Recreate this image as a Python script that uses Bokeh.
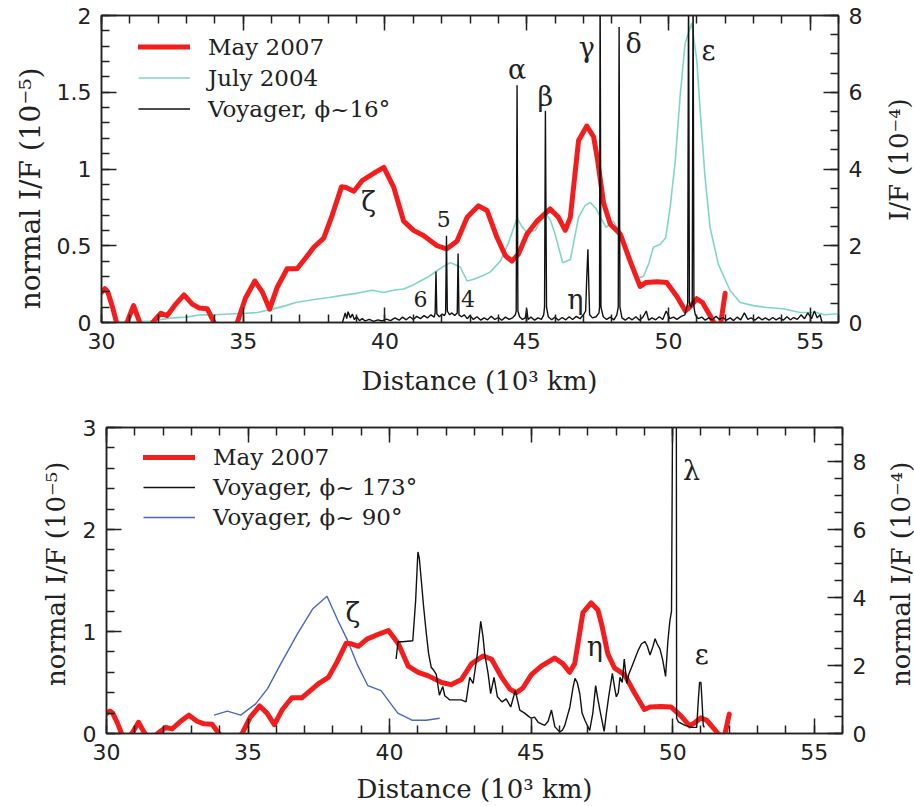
import math
from bokeh.plotting import figure
from bokeh.models import (Range1d, LinearAxis, SingleIntervalTicker, NumeralTickFormatter,
                          Legend, LegendItem, CustomJSTickFormatter, Label)
from bokeh.layouts import column, row
from bokeh.core.properties import value
from bokeh.embed import file_html
from bokeh.resources import INLINE

# ---------------- data ----------------
# May 2007 profile (normal I/F, 1e-5), same in both panels
may_d = [30.00, 30.12, 30.22, 30.39, 30.53, 30.70, 30.92, 31.13, 31.33, 31.55,
         31.85, 32.09, 32.32, 32.62, 32.91, 33.20, 33.44, 33.73, 33.97, 34.40,
         34.79, 35.08, 35.41, 35.67, 35.93, 36.20, 36.55, 36.90, 37.20, 37.49,
         37.84, 38.14, 38.47, 38.63, 38.90, 39.20, 39.67, 39.96, 40.31, 40.66,
         41.01, 41.37, 41.84, 42.17, 42.54, 42.90, 43.30, 43.60, 43.95, 44.25,
         44.48, 44.71, 45.01, 45.36, 45.83, 46.12, 46.36, 46.54, 46.83, 47.12,
         47.36, 47.50, 47.71, 47.95, 48.30, 48.65, 49.00, 49.20, 49.60, 49.94,
         50.30, 50.60, 50.80, 51.00, 51.20, 51.45, 51.60, 51.75, 51.85, 52.00]
may_i = [0.196, 0.22, 0.20, 0.10, 0.00, -0.06, 0.01, 0.11, 0.01, -0.06,
         0.01, 0.06, 0.045, 0.12, 0.18, 0.12, 0.095, 0.09, 0.00, -0.10,
         0.00, 0.16, 0.27, 0.20, 0.087, 0.23, 0.35, 0.35, 0.42, 0.49,
         0.55, 0.70, 0.885, 0.88, 0.855, 0.925, 0.98, 1.01, 0.88, 0.66,
         0.60, 0.565, 0.50, 0.479, 0.53, 0.685, 0.76, 0.73, 0.555, 0.435,
         0.40, 0.446, 0.577, 0.66, 0.74, 0.685, 0.60, 0.685, 1.185, 1.28,
         1.21, 1.06, 0.78, 0.64, 0.577, 0.40, 0.235, 0.26, 0.265, 0.26,
         0.17, 0.075, 0.11, 0.155, 0.13, 0.05, 0.00, -0.03, 0.00, 0.19]

# July 2004 profile (normal I/F, 1e-5)
jul_d = [30.00, 30.80, 31.70, 32.50, 33.00, 33.49, 34.00, 34.50, 35.08, 35.50,
         36.03, 36.50, 36.85, 37.50, 38.02, 38.60, 39.00, 39.55, 39.96, 40.30,
         40.66, 41.00, 41.25, 41.55, 41.84, 42.10, 42.31, 42.50, 42.66, 42.90,
         43.10, 43.25, 43.50, 43.72, 44.07, 44.36, 44.66, 44.85, 45.01, 45.30,
         45.52, 45.72, 45.85, 46.00, 46.27, 46.54, 46.83, 47.05, 47.24, 47.45,
         47.62, 47.80, 48.06, 48.30, 48.65, 48.89, 49.12, 49.30, 49.47, 49.71,
         49.90, 50.06, 50.24, 50.42, 50.59, 50.82, 51.00, 51.12, 51.29, 51.47,
         51.76, 52.17, 52.53, 53.00, 53.47, 54.05, 54.64, 55.23, 55.50, 56.00]
jul_i = [0.00, 0.005, 0.01, 0.03, 0.035, 0.05, 0.05, 0.055, 0.06, 0.065,
         0.087, 0.11, 0.13, 0.15, 0.163, 0.18, 0.19, 0.21, 0.195, 0.21,
         0.218, 0.245, 0.27, 0.30, 0.337, 0.37, 0.39, 0.375, 0.36, 0.27,
         0.28, 0.29, 0.31, 0.33, 0.40, 0.52, 0.68, 0.62, 0.585, 0.60,
         0.67, 0.70, 0.66, 0.577, 0.39, 0.41, 0.685, 0.76, 0.783, 0.74,
         0.68, 0.62, 0.66, 0.58, 0.40, 0.29, 0.30, 0.38, 0.49, 0.51,
         0.55, 0.75, 1.05, 1.49, 1.82, 1.95, 1.71, 1.38, 0.95, 0.62,
         0.38, 0.21, 0.13, 0.11, 0.098, 0.09, 0.065, 0.065, 0.05, 0.057]

# Voyager, phi~16 deg (I/F, 1e-4, right axis)
v16_d = [38.50, 38.60, 38.65, 38.70, 38.78, 38.85, 38.92, 39.00, 39.10, 39.20,
         39.30, 39.45, 39.60, 39.75, 39.90, 40.05, 40.20, 40.35, 40.50, 40.62,
         40.75, 40.88, 41.00, 41.12, 41.25, 41.38, 41.50, 41.62, 41.74, 41.77,
         41.80, 41.83, 41.92, 42.02, 42.10, 42.14, 42.17, 42.20, 42.28, 42.36,
         42.46, 42.55, 42.58, 42.61, 42.70, 42.80, 42.90, 43.00, 43.12, 43.25,
         43.38, 43.50, 43.62, 43.75, 43.88, 44.00, 44.12, 44.25, 44.38, 44.50,
         44.60, 44.63, 44.66, 44.69, 44.75, 44.85, 44.95, 45.00, 45.05, 45.15,
         45.28, 45.40, 45.52, 45.60, 45.63, 45.66, 45.70, 45.76, 45.88, 46.00,
         46.12, 46.25, 46.38, 46.50, 46.62, 46.75, 46.88, 47.00, 47.08, 47.12,
         47.16, 47.19, 47.22, 47.32, 47.45, 47.55, 47.57, 47.59, 47.62, 47.70,
         47.82, 47.95, 48.08, 48.18, 48.23, 48.26, 48.29, 48.36, 48.48, 48.60,
         48.72, 48.85, 48.98, 49.10, 49.22, 49.30, 49.42, 49.55, 49.68, 49.80,
         49.92, 50.05, 50.18, 50.30, 50.45, 50.58, 50.68, 50.71, 50.74, 50.80,
         50.84, 50.87, 50.90, 50.95, 51.05, 51.18, 51.30, 51.42, 51.55, 51.68,
         51.80, 51.92, 52.05, 52.18, 52.30, 52.42, 52.55, 52.68, 52.80, 52.92,
         53.05, 53.18, 53.30, 53.42, 53.55, 53.68, 53.80, 53.92, 54.05, 54.18,
         54.30, 54.42, 54.55, 54.68, 54.80, 54.92, 55.05, 55.15, 55.25, 55.35, 55.42]
v16_i = [0.00, 0.25, 0.10, 0.28, 0.12, 0.22, 0.08, 0.15, 0.05, 0.10,
         0.04, 0.08, 0.03, 0.07, 0.04, 0.09, 0.05, 0.12, 0.06, 0.14,
         0.07, 0.15, 0.08, 0.16, 0.10, 0.18, 0.12, 0.20, 0.14, 0.25,
         1.33, 0.22, 0.15, 0.22, 0.18, 0.25, 2.26, 0.30, 0.20, 0.25,
         0.18, 0.25, 1.80, 0.20, 0.15, 0.20, 0.10, 0.18, 0.08, 0.15,
         0.06, 0.12, 0.07, 0.16, 0.08, 0.13, 0.06, 0.14, 0.08, 0.12,
         0.20, 0.30, 6.18, 0.30, 0.15, 0.08, 0.12, 0.35, 0.08, 0.14,
         0.06, 0.12, 0.08, 0.20, 0.40, 5.52, 0.40, 0.15, 0.07, 0.14,
         0.06, 0.13, 0.07, 0.15, 0.08, 0.16, 0.10, 0.20, 0.30, 1.20,
         1.91, 1.00, 0.20, 0.12, 0.15, 0.25, 0.40, 9.00, 0.40, 0.15,
         0.08, 0.14, 0.07, 0.20, 0.40, 7.70, 0.40, 0.12, 0.06, 0.13,
         0.07, 0.15, 0.06, 0.14, 0.30, 0.06, 0.12, 0.07, 0.15, 0.08,
         0.30, 0.10, 0.14, 0.08, 0.16, 0.20, 0.50, 9.00, 0.50, 0.40,
         0.50, 9.00, 0.40, 0.20, 0.10, 0.14, 0.06, 0.12, 0.07, 0.16,
         0.08, 0.13, 0.06, 0.12, 0.05, 0.14, 0.07, 0.25, 0.08, 0.12,
         0.06, 0.14, 0.07, 0.12, 0.06, 0.13, 0.07, 0.12, 0.06, 0.15,
         0.07, 0.13, 0.08, 0.20, 0.10, 0.25, 0.10, 0.30, 0.12, 0.20, 0.00]

# Voyager, phi~173 deg (bottom panel)
v173_d = [40.23, 40.30, 40.45, 40.82, 40.92, 41.00, 41.05, 41.13, 41.20, 41.29,
          41.38, 41.47, 41.56, 41.65, 41.76, 41.82, 41.88, 41.95, 42.12, 42.30,
          42.53, 42.70, 42.83, 42.95, 43.05, 43.10, 43.22, 43.30, 43.36, 43.48,
          43.57, 43.69, 43.81, 43.97, 44.12, 44.28, 44.44, 44.60, 44.77, 44.90,
          45.00, 45.12, 45.25, 45.48, 45.60, 45.72, 45.84, 46.01, 46.10, 46.19,
          46.37, 46.48, 46.55, 46.63, 46.72, 46.80, 46.90, 47.07, 47.18, 47.28,
          47.35, 47.43, 47.58, 47.66, 47.74, 47.87, 47.95, 48.01, 48.08, 48.14,
          48.22, 48.29, 48.38, 48.45, 48.55, 48.65, 48.79, 48.90, 49.02, 49.10,
          49.20, 49.30, 49.38, 49.45, 49.55, 49.65, 49.75, 49.83, 49.90, 49.96,
          50.00, 50.13, 50.14, 50.20, 50.44, 50.67, 50.85, 50.90, 50.95, 51.00,
          51.05, 51.08, 51.12]
v173_i = [0.73, 0.90, 0.90, 0.91, 1.30, 1.78, 1.72, 1.47, 1.25, 1.00,
          0.78, 0.65, 0.62, 0.58, 0.375, 0.42, 0.46, 0.37, 0.33, 0.33,
          0.33, 0.31, 0.55, 0.49, 0.68, 0.78, 1.10, 0.95, 0.78, 0.59,
          0.39, 0.55, 0.36, 0.31, 0.34, 0.26, 0.42, 0.23, 0.20, 0.17,
          0.15, 0.16, 0.11, 0.08, 0.12, 0.23, 0.065, 0.016, 0.03, 0.08,
          0.26, 0.45, 0.54, 0.50, 0.39, 0.20, 0.13, 0.03, 0.20, 0.47,
          0.35, 0.23, 0.02, 0.20, 0.36, 0.59, 0.45, 0.36, 0.40, 0.55,
          0.50, 0.73, 0.49, 0.58, 0.65, 0.72, 0.82, 0.88, 0.90, 0.86,
          0.77, 0.85, 0.93, 0.88, 0.83, 0.72, 0.56, 0.90, 1.10, 1.20,
          3.30, 3.30, 0.15, 0.115, 0.08, 0.06, 0.06, 0.30, 0.50, 0.50,
          0.25, 0.08, 0.06]

# Voyager, phi~90 deg (bottom panel)
v90_d = [33.80, 34.27, 34.74, 35.27, 35.69, 36.16, 36.75, 37.28, 37.79, 38.17,
         38.52, 38.87, 39.23, 39.70, 40.29, 40.79, 41.29, 41.77]
v90_i = [0.18, 0.22, 0.18, 0.29, 0.44, 0.685, 0.98, 1.22, 1.345, 1.11,
         0.91, 0.67, 0.47, 0.42, 0.20, 0.13, 0.13, 0.15]

# ring labels
top_greek = ["ζ", "α", "β", "γ", "δ", "ε", "η"]
top_greek_d = [39.42, 44.66, 45.66, 47.12, 48.77, 51.41, 46.72]
top_greek_v = [0.79, 1.65, 1.47, 1.79, 1.82, 1.77, 0.15]
top_num = ["5", "6", "4"]
top_num_d = [42.07, 41.25, 42.93]
top_num_v = [0.675, 0.153, 0.153]
bot_greek = ["ζ", "η", "λ", "ε"]
bot_greek_d = [38.70, 47.25, 50.67, 51.03]
bot_greek_v = [1.19, 0.85, 2.58, 0.77]

# axis titles
x_title = "Distance (10³ km)"
top_left_title = "normal I/F (10⁻⁵)"
top_right_title = "I/F (10⁻⁴)"
bot_left_title = "normal I/F (10⁻⁵)"
bot_right_title = "normal I/F (10⁻⁴)"

# ---------------- styling ----------------
AX = "#222222"
RED = "#f41d1d"
TEAL = "#80d6c6"
BLUE = "#4a66c4"
BLK = "#111111"
SERIF = "DejaVu Serif"
UP = math.pi / 2


def style_axis(ax, interval, minor, show_labels=True):
    ax.ticker = SingleIntervalTicker(interval=interval, num_minor_ticks=minor)
    ax.axis_line_color = AX
    ax.axis_line_width = 1.5
    ax.major_tick_line_color = AX
    ax.major_tick_line_width = 1.5
    ax.minor_tick_line_color = AX
    ax.minor_tick_line_width = 1.5
    ax.major_tick_in = 15
    ax.major_tick_out = 0
    ax.minor_tick_in = 8
    ax.minor_tick_out = 0
    ax.major_label_text_font = "DejaVu Sans"
    ax.major_label_text_font_size = "22px"
    ax.major_label_text_color = AX
    ax.major_label_standoff = 10
    if not show_labels:
        ax.formatter = CustomJSTickFormatter(code="return ''")
        ax.major_label_standoff = 0


def make_fig(w, h, ymax, yrmax, left_interval, borders):
    bl, br, bt, bb = borders
    p = figure(width=w, height=h, x_range=Range1d(30, 56), y_range=Range1d(0, ymax),
               output_backend="svg", toolbar_location=None,
               min_border_left=bl, min_border_right=br, min_border_top=bt, min_border_bottom=bb)
    p.grid.visible = False
    p.outline_line_color = AX
    p.outline_line_width = 1.5
    p.background_fill_color = "white"
    p.border_fill_color = "white"
    p.extra_y_ranges = {"right": Range1d(0, yrmax)}

    style_axis(p.xaxis[0], 5, 5)
    ya = p.yaxis[0]
    style_axis(ya, left_interval, 5)
    ya.formatter = NumeralTickFormatter(format="0.[0]")

    top = LinearAxis()
    style_axis(top, 5, 5, show_labels=False)
    p.add_layout(top, "above")

    ra = LinearAxis(y_range_name="right")
    style_axis(ra, 2, 4)
    p.add_layout(ra, "right")
    return p


def text_fig(w, h, text, cx, cy, size, angle=0.0):
    """A blank strip that only carries an axis title (pixel coordinates, y down)."""
    f = figure(width=w, height=h, x_range=Range1d(0, w), y_range=Range1d(h, 0),
               x_axis_type=None, y_axis_type=None, output_backend="svg",
               toolbar_location=None, min_border=0)
    f.outline_line_color = None
    f.background_fill_color = "white"
    f.border_fill_color = "white"
    f.add_layout(Label(x=cx, y=cy, text=text, angle=angle, text_font=SERIF,
                       text_font_size=size, text_color=AX, text_align="center",
                       text_baseline="middle"))
    return f


def style_legend(leg, row_h):
    leg.label_text_font = SERIF
    leg.label_text_font_size = "23px"
    leg.label_text_color = AX
    leg.glyph_width = 52
    leg.glyph_height = row_h
    leg.label_height = row_h
    leg.spacing = 0
    leg.padding = 0
    leg.margin = 0
    leg.label_standoff = 18
    leg.border_line_color = None
    leg.background_fill_alpha = 0


# ---------------- top panel ----------------
p1 = make_fig(834, 362, 2, 8, 0.5, (55, 42, 15, 40))
r_jul = p1.line(jul_d, jul_i, line_color=TEAL, line_width=1.6)
r_may1 = p1.line(may_d, may_i, line_color=RED, line_width=5, line_join="round", line_cap="round")
r_v16 = p1.line(v16_d, v16_i, line_color=BLK, line_width=1.4, y_range_name="right")
p1.text(top_greek_d, top_greek_v, text=top_greek, text_font=value(SERIF), text_font_size="27px",
        text_align="center", text_baseline="middle", text_color=AX)
p1.text(top_num_d, top_num_v, text=top_num, text_font=value(SERIF), text_font_size="22px",
        text_align="center", text_baseline="middle", text_color=AX)
leg1 = Legend(items=[LegendItem(label="May 2007", renderers=[r_may1]),
                     LegendItem(label="July 2004", renderers=[r_jul]),
                     LegendItem(label="Voyager, ϕ~16°", renderers=[r_v16])],
              location=(37, 198))
style_legend(leg1, 31)
p1.add_layout(leg1)

l1 = text_fig(46, 362, top_left_title, 30, 204, "28px", UP)
rt1 = text_fig(34, 362, top_right_title, 18, 170, "26px", UP)
s1 = text_fig(914, 41, x_title, 479, 18, "26px")

# ---------------- bottom panel ----------------
p2 = make_fig(814, 370, 3, 9, 1, (36, 42, 24, 40))
r_v90 = p2.line(v90_d, v90_i, line_color=BLUE, line_width=1.4)
r_may2 = p2.line(may_d, may_i, line_color=RED, line_width=5, line_join="round", line_cap="round")
r_v173 = p2.line(v173_d, v173_i, line_color=BLK, line_width=1.4)
p2.text(bot_greek_d, bot_greek_v, text=bot_greek, text_font=value(SERIF), text_font_size="27px",
        text_align="center", text_baseline="middle", text_color=AX)
leg2 = Legend(items=[LegendItem(label="May 2007", renderers=[r_may2]),
                     LegendItem(label="Voyager, ϕ~ 173°", renderers=[r_v173]),
                     LegendItem(label="Voyager, ϕ~ 90°", renderers=[r_v90])],
              location=(37, 201))
style_legend(leg2, 30)
p2.add_layout(leg2)

l2 = text_fig(70, 370, bot_left_title, 55, 177, "26px", UP)
rt2 = text_fig(30, 370, bot_right_title, 16, 177, "26px", UP)
s2 = text_fig(914, 33, x_title, 474, 15, "26px")

layout = column(row(l1, p1, rt1, spacing=0), s1,
                row(l2, p2, rt2, spacing=0), s2, spacing=0)
open("out.html", "w").write(file_html(layout, INLINE))
